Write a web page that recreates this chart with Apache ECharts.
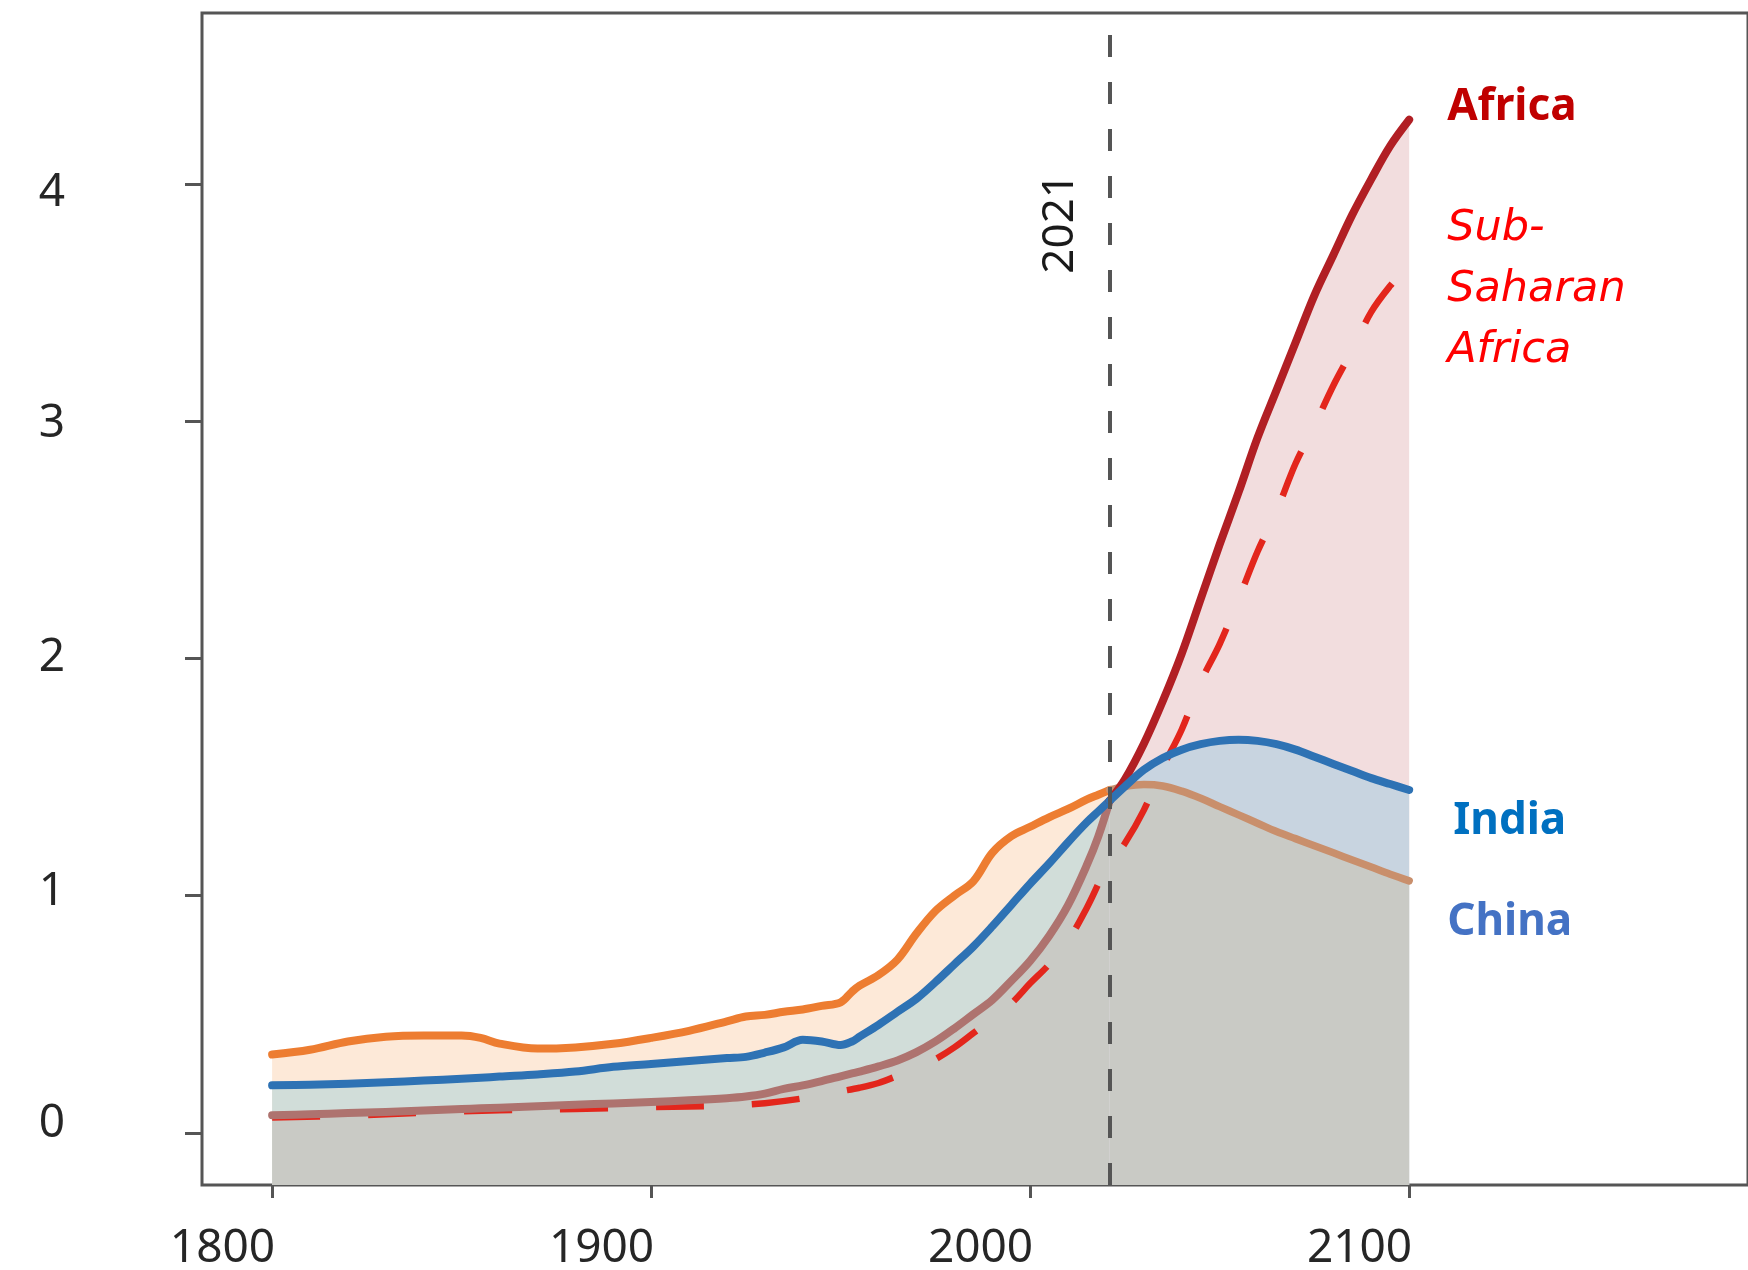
<!DOCTYPE html>
<html>
<head>
<meta charset="utf-8">
<script src="https://cdn.jsdelivr.net/npm/echarts@6/dist/echarts.min.js"></script>
<style>html,body{margin:0;padding:0;background:#fff}#c{width:1748px;height:1270px}</style>
</head>
<body>
<div id="c"></div>
<script>
// ---- data (population, billions) ----
const histYears = [1800,1810,1820,1830,1840,1850,1855,1860,1870,1880,1890,1900,1910,1920,1925,1930,1935,1940,1945,1950,1953,1955,1960,1965,1970,1975,1980,1985,1990,1995,2000,2005,2010,2015,2018,2021];
const chinaHist  = [0.33,0.35,0.385,0.405,0.41,0.41,0.40,0.376,0.355,0.36,0.375,0.40,0.43,0.47,0.49,0.497,0.51,0.52,0.535,0.55,0.595,0.62,0.665,0.73,0.84,0.935,1.00,1.06,1.18,1.25,1.29,1.33,1.365,1.405,1.425,1.445];
const indiaHist  = [0.20,0.203,0.207,0.213,0.22,0.228,0.232,0.237,0.246,0.258,0.278,0.29,0.303,0.315,0.32,0.338,0.36,0.392,0.385,0.37,0.385,0.405,0.455,0.51,0.565,0.635,0.71,0.785,0.87,0.96,1.05,1.135,1.225,1.31,1.355,1.40];
const africaHist = [0.074,0.078,0.083,0.088,0.094,0.10,0.103,0.106,0.112,0.118,0.124,0.13,0.137,0.146,0.153,0.165,0.185,0.2,0.218,0.238,0.25,0.258,0.28,0.305,0.34,0.385,0.44,0.50,0.56,0.64,0.725,0.83,0.96,1.13,1.25,1.40];

const projYears  = [2021,2025,2030,2035,2040,2045,2050,2055,2060,2065,2070,2075,2080,2085,2090,2095,2100];
const africaProj = [1.40,1.49,1.64,1.82,2.02,2.25,2.48,2.70,2.93,3.13,3.33,3.53,3.70,3.87,4.02,4.16,4.27];
const indiaProj  = [1.40,1.46,1.53,1.58,1.615,1.638,1.652,1.657,1.652,1.638,1.615,1.585,1.555,1.525,1.495,1.47,1.445];
const chinaProj  = [1.445,1.46,1.468,1.462,1.44,1.41,1.375,1.34,1.305,1.27,1.24,1.21,1.18,1.15,1.12,1.09,1.062];

const ssaYears  = [1800,1820,1840,1860,1880,1900,1920,1930,1940,1950,1955,1960,1965,1970,1975,1980,1985,1990,1995,2000,2005,2010,2015,2020,2025,2030,2035,2040,2045,2050,2055,2060,2065,2070,2075,2080,2085,2090,2095,2100];
const ssaValues = [0.065,0.072,0.085,0.095,0.10,0.108,0.115,0.125,0.145,0.175,0.19,0.21,0.24,0.27,0.31,0.36,0.42,0.48,0.545,0.63,0.71,0.81,0.95,1.11,1.22,1.36,1.54,1.70,1.90,2.06,2.25,2.45,2.62,2.82,2.98,3.15,3.30,3.46,3.57,3.66];

const xTicks = [1800,1900,2000,2100];
const yTicks = [0,1,2,3,4];
const cutYear = 2021;
const labels = {africa:'Africa', ssa:'Sub-\nSaharan\nAfrica', india:'India', china:'China'};

// ---- styles ----
const yLabelShift = {0:-9, 1:-4, 2:0, 3:3, 4:9}; // px, label nudges as in the original
const yRich = {};
yTicks.forEach(v => {
  const d = yLabelShift[v] || 0;
  yRich['l'+v] = {color:'#262626', fontFamily:'"Noto Sans"', fontSize:46,
    padding: d >= 0 ? [2*d,0,0,0] : [0,0,-2*d,0]};
});

// ---- helpers ----
const pairs = (xs, ys) => xs.map((x,i)=>[x, ys[i]]);
const SM = 0.35;
function areaSeries(xs, ys, color){
  return {type:'line', data:pairs(xs,ys), smooth:SM, symbol:'none', z:1,
    lineStyle:{width:0, opacity:0}, areaStyle:{color:color, opacity:1, origin:'start'}, silent:true};
}
function lineSeries(xs, ys, color, width, extra){
  return Object.assign({type:'line', data:pairs(xs,ys), smooth:SM, symbol:'none', z:3,
    lineStyle:{color:color, width:width, cap:'round', join:'round'}, silent:true}, extra||{});
}
const labFont = {fontFamily:'"Noto Sans"', fontSize:44};

const series = [
  areaSeries(histYears, chinaHist, '#FDE9D8'),
  areaSeries(histYears, indiaHist, '#D1DDD9'),
  areaSeries(histYears, africaHist, '#C9CAC5'),
  areaSeries(projYears, africaProj, '#F2DDDE'),
  areaSeries(projYears, indiaProj, '#C8D4E0'),
  areaSeries(projYears, chinaProj, '#C9CAC5'),
  lineSeries(ssaYears, ssaValues, '#E3261C', 6, {
    lineStyle:{color:'#E3261C', width:6.5, type:[48,48], cap:'butt'},
    endLabel:{show:true, formatter:labels.ssa, color:'#FF0000', fontStyle:'italic', fontFamily:'"DejaVu Sans"', fontSize:43, lineHeight:61, distance:38, offset:[0,25]},
    markLine:{symbol:'none', silent:true, animation:false,
      lineStyle:{color:'#555555', width:4, type:[22,25]},
      label:{show:true, formatter:String(cutYear), position:'insideEndTop', distance:[160,27], color:'#1a1a1a', fontFamily:'"Noto Sans"', fontSize:44},
      data:[{xAxis:cutYear}]}
  }),
  lineSeries(histYears, africaHist, '#AE736F', 8),
  lineSeries(histYears, chinaHist, '#ED7D31', 8),
  lineSeries(histYears, indiaHist, '#2E72B4', 8),
  lineSeries(projYears, chinaProj, '#C98F6C', 7.5, {
    endLabel:Object.assign({show:true, formatter:labels.china, color:'#4472C4', fontWeight:'bold', distance:38, offset:[0,42]}, labFont)}),
  lineSeries(projYears, africaProj, '#B11F24', 8, {
    endLabel:Object.assign({show:true, formatter:labels.africa, color:'#C00000', fontWeight:'bold', distance:38, offset:[0,-12]}, labFont)}),
  lineSeries(projYears, indiaProj, '#2E72B4', 8, {
    endLabel:Object.assign({show:true, formatter:labels.india, color:'#0070C0', fontWeight:'bold', distance:44, offset:[0,31]}, labFont)})
];

const chart = echarts.init(document.getElementById('c'), null, {renderer:'canvas'});
chart.setOption({
  animation:false,
  backgroundColor:'#ffffff',
  grid:{left:202, top:13, bottom:85, right:0, show:true, borderColor:'#555555', borderWidth:3, containLabel:false, outerBoundsMode:'none'},
  xAxis:{type:'value', min:1781.5, max:2189.4,
    splitLine:{show:false}, axisLine:{show:false, onZero:false},
    axisTick:{show:true, customValues:xTicks, length:13, lineStyle:{color:'#555555', width:3}},
    axisLabel:{show:true, customValues:xTicks, margin:41, align:'right', padding:[0,-3,0,0], formatter:v=>String(v), color:'#262626', fontFamily:'"Noto Sans"', fontSize:46}},
  yAxis:{type:'value', min:-0.22, max:4.72,
    splitLine:{show:false}, axisLine:{show:false, onZero:false},
    axisTick:{show:true, customValues:yTicks, length:17, lineStyle:{color:'#555555', width:3}},
    axisLabel:{show:true, customValues:yTicks, margin:137, align:'right', formatter:v=>'{l'+v+'|'+v+'}', rich:yRich, color:'#262626', fontFamily:'"Noto Sans"', fontSize:46}},
  series:series
});
</script>
</body>
</html>
